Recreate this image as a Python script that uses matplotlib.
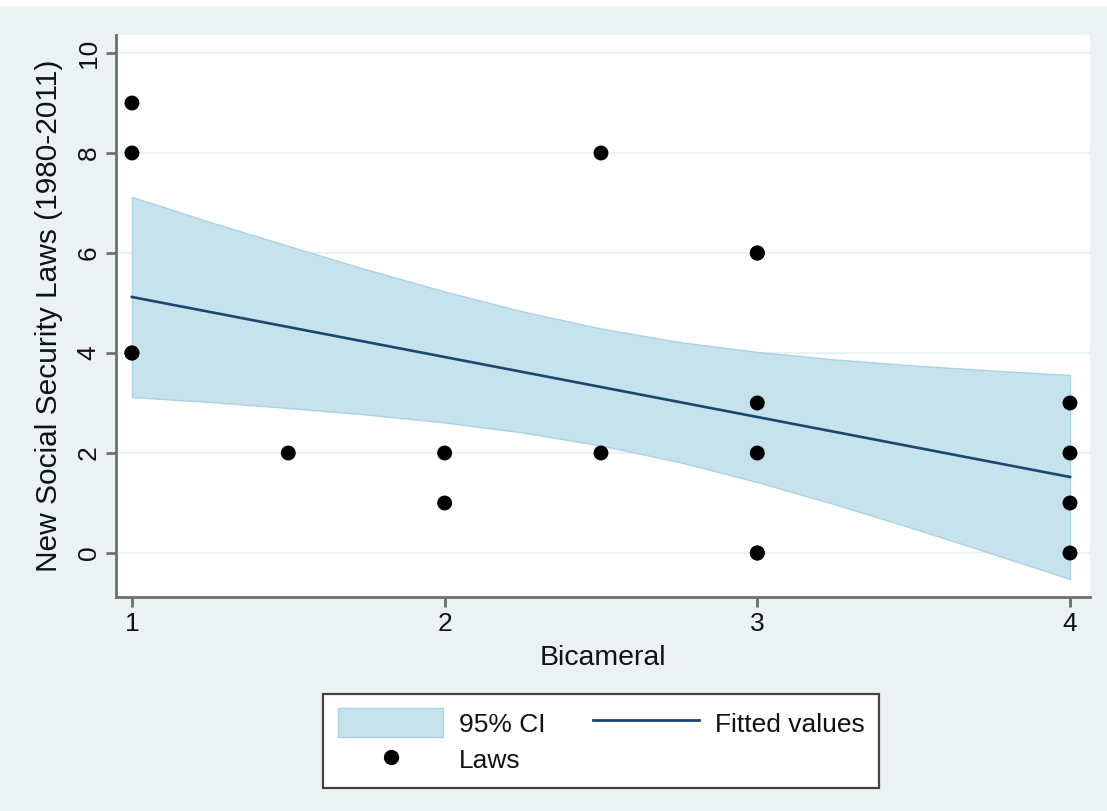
import matplotlib
matplotlib.use("Agg")
import matplotlib.pyplot as plt
from matplotlib.patches import Patch, Rectangle
from matplotlib.lines import Line2D

plt.rcParams['font.family'] = ['Liberation Sans', 'DejaVu Sans']

# Scatter data (Bicameral vs. new laws)
bicameral = [1, 1, 1, 1, 1.5, 2, 2, 2.5, 2.5, 3, 3, 3, 3, 3, 3, 4, 4, 4, 4]
laws      = [9, 8, 4, 4, 2,   2, 1, 8,   2,   6, 6, 3, 2, 0, 0, 3, 2, 1, 0]

# Fitted line and 95% CI
fit_x   = [1, 1.25, 1.5, 1.75, 2, 2.25, 2.5, 2.75, 3, 3.25, 3.5, 3.75, 4]
fit_y   = [5.12, 4.82, 4.52, 4.22, 3.92, 3.62, 3.32, 3.02, 2.72, 2.42, 2.12, 1.82, 1.52]
ci_high = [7.12, 6.62, 6.14, 5.67, 5.23, 4.83, 4.49, 4.22, 4.02, 3.87, 3.75, 3.65, 3.56]
ci_low  = [3.12, 3.02, 2.90, 2.77, 2.61, 2.41, 2.15, 1.82, 1.42, 0.97, 0.49, -0.01, -0.52]

x_ticks = [1, 2, 3, 4]
y_ticks = [0, 2, 4, 6, 8, 10]

bg = '#EAF2F3'
ci_col = '#C6E3ED'
ci_edge = '#A9D3E2'
line_col = '#1A476F'
axis_col = '#6E6E6E'
txt_col = '#111111'

fig = plt.figure(figsize=(11.07, 8.11), dpi=100, facecolor=bg)
# white strip at top (cropped caption)
fig.patches.append(Rectangle((0, 1 - 6/811), 1, 6/811, transform=fig.transFigure,
                             facecolor='white', edgecolor='none', zorder=0))

ax = fig.add_axes([116/1107, 1 - 597/811, (1090-116)/1107, (597-35)/811])
ax.set_facecolor('white')

for yt in y_ticks:
    ax.axhline(yt, color=bg, lw=1.6, zorder=0)

ax.fill_between(fit_x, ci_low, ci_high, facecolor=ci_col, edgecolor=ci_edge, lw=1.0, zorder=1)
ax.plot(fit_x, fit_y, color=line_col, lw=1.9, zorder=2)
ax.scatter(bicameral, laws, s=115, color='black', edgecolors='none', zorder=3)

ax.set_xlim(0.949, 4.064)
ax.set_ylim(-0.88, 10.36)
ax.set_xticks(x_ticks)
ax.set_yticks(y_ticks)
ax.set_yticklabels([str(t) for t in y_ticks], rotation=90, va='center')

for s in ['top', 'right']:
    ax.spines[s].set_visible(False)
for s in ['left', 'bottom']:
    ax.spines[s].set_color(axis_col)
    ax.spines[s].set_linewidth(2.0)
ax.tick_params(axis='both', colors=axis_col, width=2.0, length=7, labelsize=19,
               labelcolor=txt_col, pad=4)

ax.set_xlabel('Bicameral', fontsize=20.5, color=txt_col, labelpad=6)
ax.set_ylabel('New Social Security Laws (1980-2011)', fontsize=21.5, color=txt_col, labelpad=10)

handles = [Patch(facecolor=ci_col, edgecolor=ci_edge, lw=1.0),
           Line2D([], [], ls='none', marker='o', ms=10, color='black'),
           Line2D([], [], color=line_col, lw=2.0)]
labels = ['95% CI', 'Laws', 'Fitted values']
leg = fig.legend(handles, labels, ncol=2, loc='center', bbox_to_anchor=(0.543, 0.0863),
                 fontsize=19, frameon=True, fancybox=False, framealpha=1,
                 edgecolor='#444444', handlelength=4.0, handleheight=1.3,
                 columnspacing=1.8, handletextpad=0.6, borderpad=0.55, labelspacing=0.3)
leg.get_frame().set_linewidth(1.6)
for t in leg.get_texts():
    t.set_color(txt_col)

fig.savefig('out.png', dpi=100, facecolor=bg)
